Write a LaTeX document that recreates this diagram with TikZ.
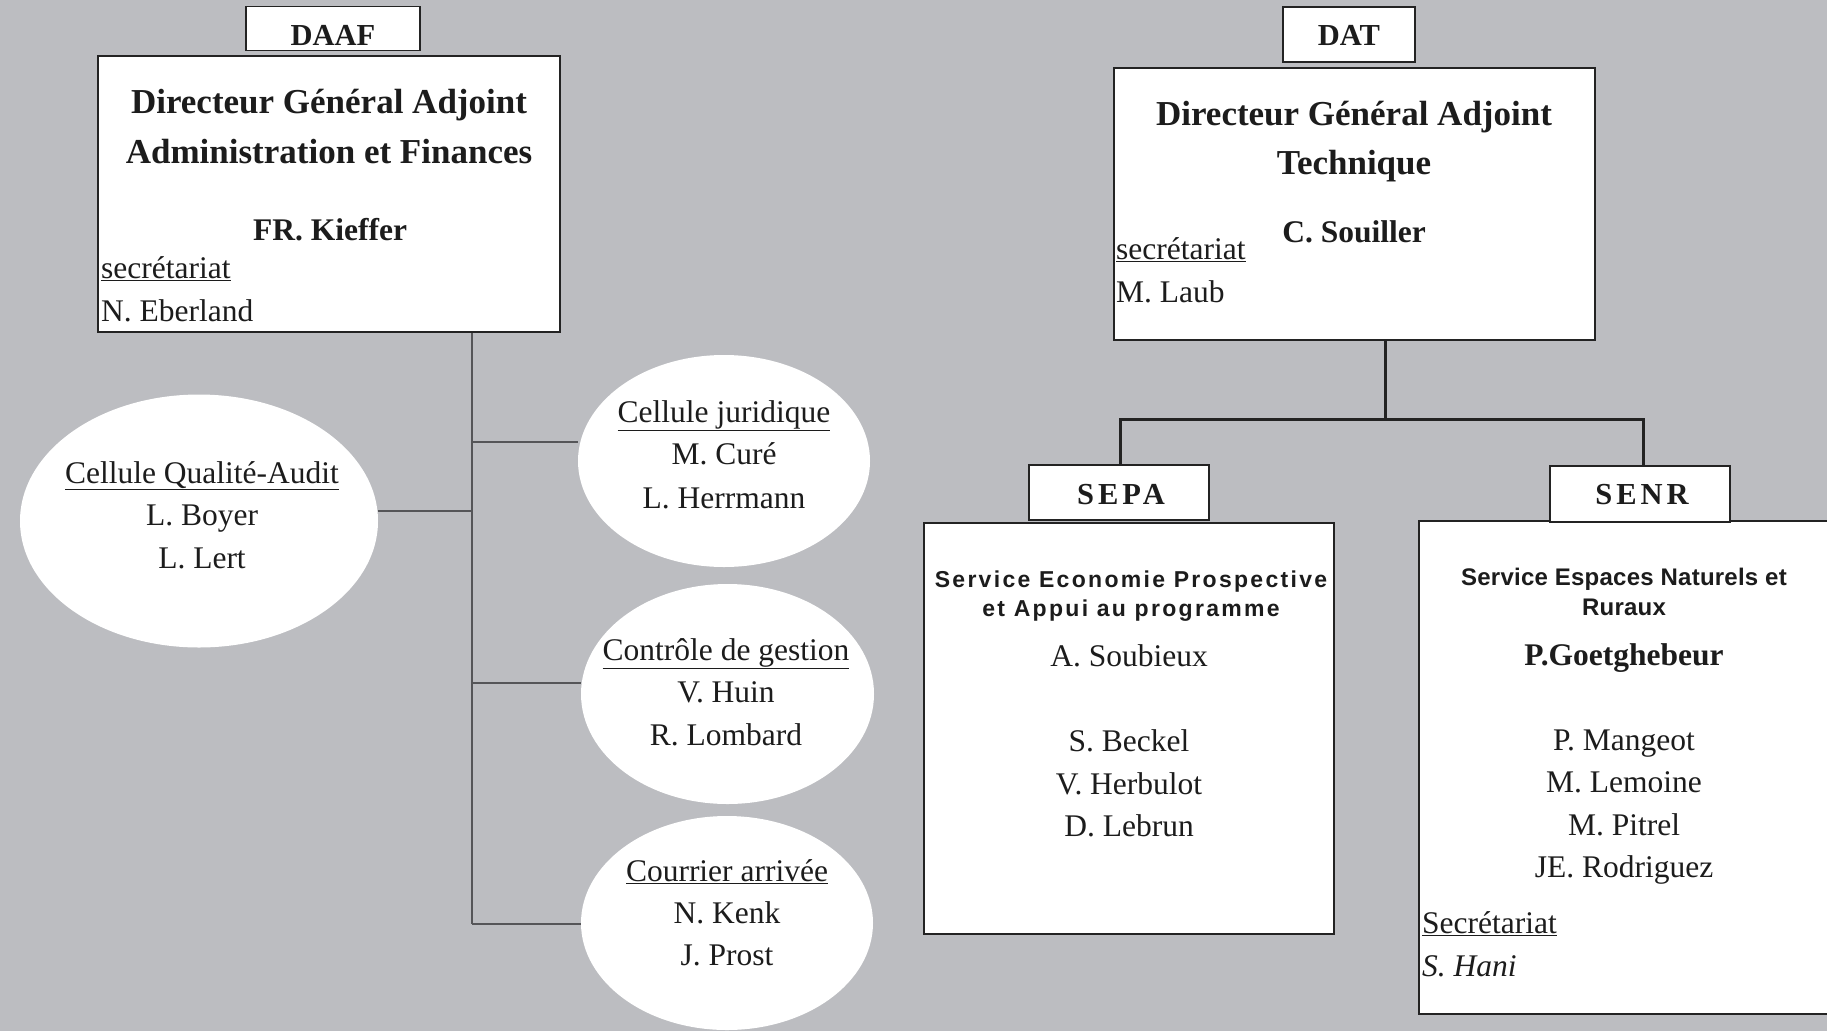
\documentclass[tikz,border=0pt]{standalone}
\usepackage{fontspec}
\setmainfont{Liberation Serif}
\newfontfamily\sansA{Liberation Sans}
\usetikzlibrary{shapes.geometric}
\definecolor{bgc}{RGB}{188,189,193}
\definecolor{lnc}{RGB}{85,85,88}
\definecolor{dkc}{RGB}{35,35,35}
\definecolor{txc}{RGB}{28,28,28}
\newcommand\xtitle{\bfseries\fontsize{35}{50}\selectfont}
\newcommand\xname{\fontsize{31.5}{42}\selectfont}
\newcommand\xlabel{\bfseries\fontsize{30.5}{36}\selectfont}
\newcommand\xsepa{\sansA\bfseries\fontsize{23}{29}\selectfont\addfontfeature{LetterSpace=10}}
\newcommand\xsenr{\sansA\bfseries\fontsize{24}{29}\selectfont\addfontfeature{LetterSpace=1}}
\tikzset{
  boxn/.style={draw=dkc, line width=1.5pt, fill=white, inner sep=0pt},
  elln/.style={ellipse, fill=white, draw=none, inner sep=0pt},
  txt/.style={inner sep=0pt, anchor=base, text=txc},
  txtl/.style={inner sep=0pt, anchor=base west, text=txc},
  conn/.style={draw=lnc, line width=2pt},
  conndk/.style={draw=dkc, line width=3pt},
}
\begin{document}
\begin{tikzpicture}[x=1pt,y=-1pt]
\useasboundingbox (0,0) rectangle (1827,1031);
\clip (0,0) rectangle (1827,1031);
\fill[bgc] (0,0) rectangle (1827,1031);

% ---------- left part ----------
\node[boxn, minimum width=462pt, minimum height=276pt] (daaf) at (329,194) {};
\node[boxn, minimum width=174pt, minimum height=44pt] (daafl) at (333,28.5) {};
\node[txt] (daaflt) at (333,45) {\xlabel DAAF};
\node[txt] (t1) at (329,113) {\xtitle Directeur Général Adjoint};
\node[txt] (t2) at (329,163) {\xtitle Administration et Finances};
\node[txt] (kief) at (330,240) {\xname\bfseries FR. Kieffer};
\node[txtl] (sec1) at (101,278) {\xname\underline{secrétariat}};
\node[txtl] (eber) at (101,321) {\xname N. Eberland};

\node[elln, minimum width=358pt, minimum height=253pt] (qa) at (199,521) {};
\node[elln, minimum width=292pt, minimum height=212pt] (jur) at (724,461) {};
\node[elln, minimum width=293pt, minimum height=220pt] (ctrl) at (727.5,694) {};
\node[elln, minimum width=292pt, minimum height=214pt] (cour) at (727,923) {};

\node[txt] (qa1) at (202,483) {\xname\underline{Cellule Qualité-Audit}};
\node[txt] (qa2) at (202,525) {\xname L. Boyer};
\node[txt] (qa3) at (202,568) {\xname L. Lert};
\node[txt] (ju1) at (724,422) {\xname\underline{Cellule juridique}};
\node[txt] (ju2) at (724,464) {\xname M. Curé};
\node[txt] (ju3) at (724,508) {\xname L. Herrmann};
\node[txt] (ct1) at (726,660) {\xname\underline{Contrôle de gestion}};
\node[txt] (ct2) at (726,702) {\xname V. Huin};
\node[txt] (ct3) at (726,745) {\xname R. Lombard};
\node[txt] (co1) at (727,881) {\xname\underline{Courrier arrivée}};
\node[txt] (co2) at (727,923) {\xname N. Kenk};
\node[txt] (co3) at (727,965) {\xname J. Prost};

\coordinate (tj) at (472,442);
\coordinate (tq) at (472,511);
\coordinate (tc) at (472,683);
\coordinate (tr) at (472,924);
\draw[conn] (daaf.south -| tj) -- (tr);
\draw[conn] (tj) -- (jur.west |- tj);
\draw[conn] (qa.east |- tq) -- (tq);
\draw[conn] (tc) -- (ctrl.west |- tc);
\draw[conn] (tr) -- (cour.west |- tr);

% ---------- right part ----------
\node[boxn, minimum width=481pt, minimum height=272pt] (dat) at (1354.5,204) {};
\node[boxn, minimum width=132pt, minimum height=55pt] (datl) at (1349,34.5) {};
\node[txt] (datlt) at (1349,45) {\xlabel DAT};
\node[txt] (t3) at (1354,125) {\xtitle Directeur Général Adjoint};
\node[txt] (t4) at (1354,174) {\xtitle Technique};
\node[txt] (souil) at (1354,242) {\xname\bfseries C. Souiller};
\node[txtl] (sec2) at (1116,259) {\xname\underline{secrétariat}};
\node[txtl] (laub) at (1116,302) {\xname M. Laub};

\node[boxn, minimum width=410pt, minimum height=411pt] (sepa) at (1129,728.5) {};
\node[boxn, minimum width=180pt, minimum height=55pt] (sepal) at (1119,492.5) {};
\node[txt] (sepalt) at (1121,504) {\xlabel\addfontfeature{LetterSpace=13}SEPA};
\node[boxn, minimum width=412pt, minimum height=493pt] (senr) at (1625,767.5) {};
\node[boxn, minimum width=180pt, minimum height=56pt] (senrl) at (1640,494) {};
\node[txt] (senrlt) at (1642,504) {\xlabel\addfontfeature{LetterSpace=13}SENR};

\coordinate (b) at (1385,419);
\draw[conndk] (dat.south -| b) -- (b);
\draw[conndk] (sepal.north -| 1120,0) -- (1120,419) -- (1643,419) -- (senrl.north -| 1643,0);

\node[txt] (sp1) at (1131,587) {\xsepa Service Economie Prospective};
\node[txt] (sp2) at (1131,616) {\xsepa et Appui au programme};
\node[txt] (sp3) at (1129,666) {\xname A. Soubieux};
\node[txt] (sp4) at (1129,751) {\xname S. Beckel};
\node[txt] (sp5) at (1129,794) {\xname V. Herbulot};
\node[txt] (sp6) at (1129,836) {\xname D. Lebrun};

\node[txt] (sn1) at (1624,585) {\xsenr Service Espaces Naturels et};
\node[txt] (sn2) at (1624,615) {\xsenr Ruraux};
\node[txt] (sn3) at (1624,665) {\xname\bfseries P.Goetghebeur};
\node[txt] (sn4) at (1624,750) {\xname P. Mangeot};
\node[txt] (sn5) at (1624,792) {\xname M. Lemoine};
\node[txt] (sn6) at (1624,835) {\xname M. Pitrel};
\node[txt] (sn7) at (1624,877) {\xname JE. Rodriguez};
\node[txtl] (sn8) at (1422,933) {\xname\underline{Secrétariat}};
\node[txtl] (sn9) at (1422,976) {\xname\itshape S. Hani};
\end{tikzpicture}
\end{document}
